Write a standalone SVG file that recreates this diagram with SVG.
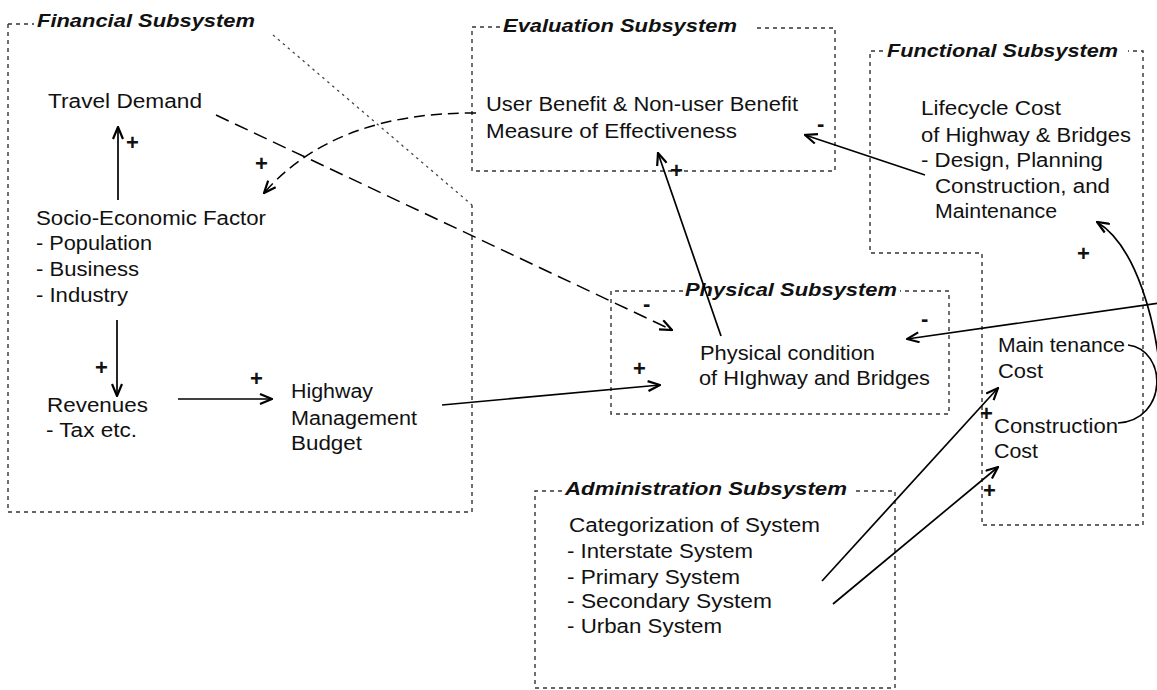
<svg xmlns="http://www.w3.org/2000/svg" width="1157" height="690" viewBox="0 0 1157 690">
<style>
text{font-family:"Liberation Sans",Arial,sans-serif;fill:#111}
.t{font-size:20px}
.h{font-size:19px;font-weight:bold;font-style:italic}
.s{font-size:22px;font-weight:bold}
.box{fill:none;stroke:#333;stroke-width:1.4;stroke-dasharray:4 4}
.dot{fill:none;stroke:#444;stroke-width:1.3;stroke-dasharray:2.5 4}
.c{fill:none;stroke:#000;stroke-width:1.7}
.cd{fill:none;stroke:#000;stroke-width:1.5;stroke-dasharray:14 7}
.cd2{fill:none;stroke:#000;stroke-width:1.5;stroke-dasharray:11 6}
</style>
<defs>
<marker id="ah" viewBox="0 0 14 12" refX="13" refY="6" markerWidth="14" markerHeight="12" markerUnits="userSpaceOnUse" orient="auto">
<path d="M1,1 L13,6 L1,11" fill="none" stroke="#000" stroke-width="2.2"/>
</marker>
</defs>
<rect width="1157" height="690" fill="#fff"/>

<g id="financial">
<path class="box" d="M8,24 H34 M8,24 V512 H472 V205"/>
<path class="dot" d="M273,35 L472,205"/>
<text class="h" x="37" y="27" textLength="218" lengthAdjust="spacingAndGlyphs">Financial Subsystem</text>
<g id="travel-demand"><text class="t" x="48" y="108" textLength="154" lengthAdjust="spacingAndGlyphs">Travel Demand</text></g>
<g id="socio-economic">
<text class="t" x="36" y="225" textLength="230" lengthAdjust="spacingAndGlyphs">Socio-Economic Factor</text>
<text class="t" x="36" y="250" textLength="116" lengthAdjust="spacingAndGlyphs">- Population</text>
<text class="t" x="36" y="276" textLength="103" lengthAdjust="spacingAndGlyphs">- Business</text>
<text class="t" x="36" y="302" textLength="92" lengthAdjust="spacingAndGlyphs">- Industry</text>
</g>
<g id="revenues">
<text class="t" x="47" y="412" textLength="101" lengthAdjust="spacingAndGlyphs">Revenues</text>
<text class="t" x="46" y="437" textLength="91" lengthAdjust="spacingAndGlyphs">- Tax etc.</text>
</g>
<g id="budget">
<text class="t" x="291" y="398" textLength="82" lengthAdjust="spacingAndGlyphs">Highway</text>
<text class="t" x="291" y="425" textLength="126" lengthAdjust="spacingAndGlyphs">Management</text>
<text class="t" x="291" y="450" textLength="71" lengthAdjust="spacingAndGlyphs">Budget</text>
</g>
</g>

<g id="evaluation">
<path class="box" d="M500,27 H472 V171 H835 V28 H753"/>
<text class="h" x="503" y="32" textLength="234" lengthAdjust="spacingAndGlyphs">Evaluation Subsystem</text>
<text class="t" x="486" y="111" textLength="312" lengthAdjust="spacingAndGlyphs">User Benefit &amp; Non-user Benefit</text>
<text class="t" x="486" y="138" textLength="251" lengthAdjust="spacingAndGlyphs">Measure of Effectiveness</text>
</g>

<g id="functional">
<path class="box" d="M883,51 H870 V253 H982 V525 H1143 V51 H1128"/>
<text class="h" x="887" y="57" textLength="231" lengthAdjust="spacingAndGlyphs">Functional Subsystem</text>
<g id="lifecycle">
<text class="t" x="921" y="115" textLength="140" lengthAdjust="spacingAndGlyphs">Lifecycle Cost</text>
<text class="t" x="921" y="142" textLength="210" lengthAdjust="spacingAndGlyphs">of Highway &amp; Bridges</text>
<text class="t" x="921" y="167" textLength="182" lengthAdjust="spacingAndGlyphs">- Design, Planning</text>
<text class="t" x="935" y="193" textLength="175" lengthAdjust="spacingAndGlyphs">Construction, and</text>
<text class="t" x="935" y="218" textLength="122" lengthAdjust="spacingAndGlyphs">Maintenance</text>
</g>
<g id="maintenance-cost">
<text class="t" x="998" y="352" textLength="127" lengthAdjust="spacingAndGlyphs">Main tenance</text>
<text class="t" x="998" y="378" textLength="45" lengthAdjust="spacingAndGlyphs">Cost</text>
</g>
<g id="construction-cost">
<text class="t" x="994" y="433" textLength="124" lengthAdjust="spacingAndGlyphs">Construction</text>
<text class="t" x="994" y="458" textLength="44" lengthAdjust="spacingAndGlyphs">Cost</text>
</g>
</g>

<g id="physical">
<path class="box" d="M683,291 H611 V414 H949 V291 H900"/>
<text class="h" x="685" y="296" textLength="212" lengthAdjust="spacingAndGlyphs">Physical Subsystem</text>
<text class="t" x="700" y="360" textLength="175" lengthAdjust="spacingAndGlyphs">Physical condition</text>
<text class="t" x="699" y="385" textLength="231" lengthAdjust="spacingAndGlyphs">of HIghway and Bridges</text>
</g>

<g id="administration">
<path class="box" d="M562,491 H535 V688 H895 V491 H852"/>
<text class="h" x="565" y="495" textLength="282" lengthAdjust="spacingAndGlyphs">Administration Subsystem</text>
<text class="t" x="569" y="532" textLength="251" lengthAdjust="spacingAndGlyphs">Categorization of  System</text>
<text class="t" x="567" y="558" textLength="186" lengthAdjust="spacingAndGlyphs">- Interstate System</text>
<text class="t" x="567" y="584" textLength="173" lengthAdjust="spacingAndGlyphs">- Primary System</text>
<text class="t" x="567" y="608" textLength="205" lengthAdjust="spacingAndGlyphs">- Secondary System</text>
<text class="t" x="567" y="633" textLength="155" lengthAdjust="spacingAndGlyphs">- Urban System</text>
</g>

<g id="connectors">
<path class="c" d="M118,200 V127" marker-end="url(#ah)"/>
<path class="c" d="M117,320 V396" marker-end="url(#ah)"/>
<path class="c" d="M178,399 H272" marker-end="url(#ah)"/>
<path class="c" d="M442,405 L660,385" marker-end="url(#ah)"/>
<path class="cd" d="M216,115 L672,330" marker-end="url(#ah)"/>
<path class="cd2" d="M476,113 Q335,112 264,193" marker-end="url(#ah)"/>
<path class="c" d="M721,336 L658,153" marker-end="url(#ah)"/>
<path class="c" d="M925,175 L805,135" marker-end="url(#ah)"/>
<path class="c" d="M1160,303 L907,339" marker-end="url(#ah)"/>
<path class="c" d="M1162,395 C1158,320 1135,245 1097,222" marker-end="url(#ah)"/>
<path class="c" d="M1128,345 C1168,350 1168,420 1118,423"/>
<path class="c" d="M822,581 L998,388" marker-end="url(#ah)"/>
<path class="c" d="M833,604 L998,467" marker-end="url(#ah)"/>
<g class="lbl">
<text class="s" x="126" y="150">+</text>
<text class="s" x="255" y="171">+</text>
<text class="s" x="95" y="375">+</text>
<text class="s" x="250" y="386">+</text>
<text class="s" x="670" y="178">+</text>
<text class="s" x="817" y="131">-</text>
<text class="s" x="643" y="311">-</text>
<text class="s" x="633" y="376">+</text>
<text class="s" x="921" y="326">-</text>
<text class="s" x="1077" y="261">+</text>
<text class="s" x="980" y="421">+</text>
<text class="s" x="983" y="498">+</text>
</g>
</g>
</svg>
